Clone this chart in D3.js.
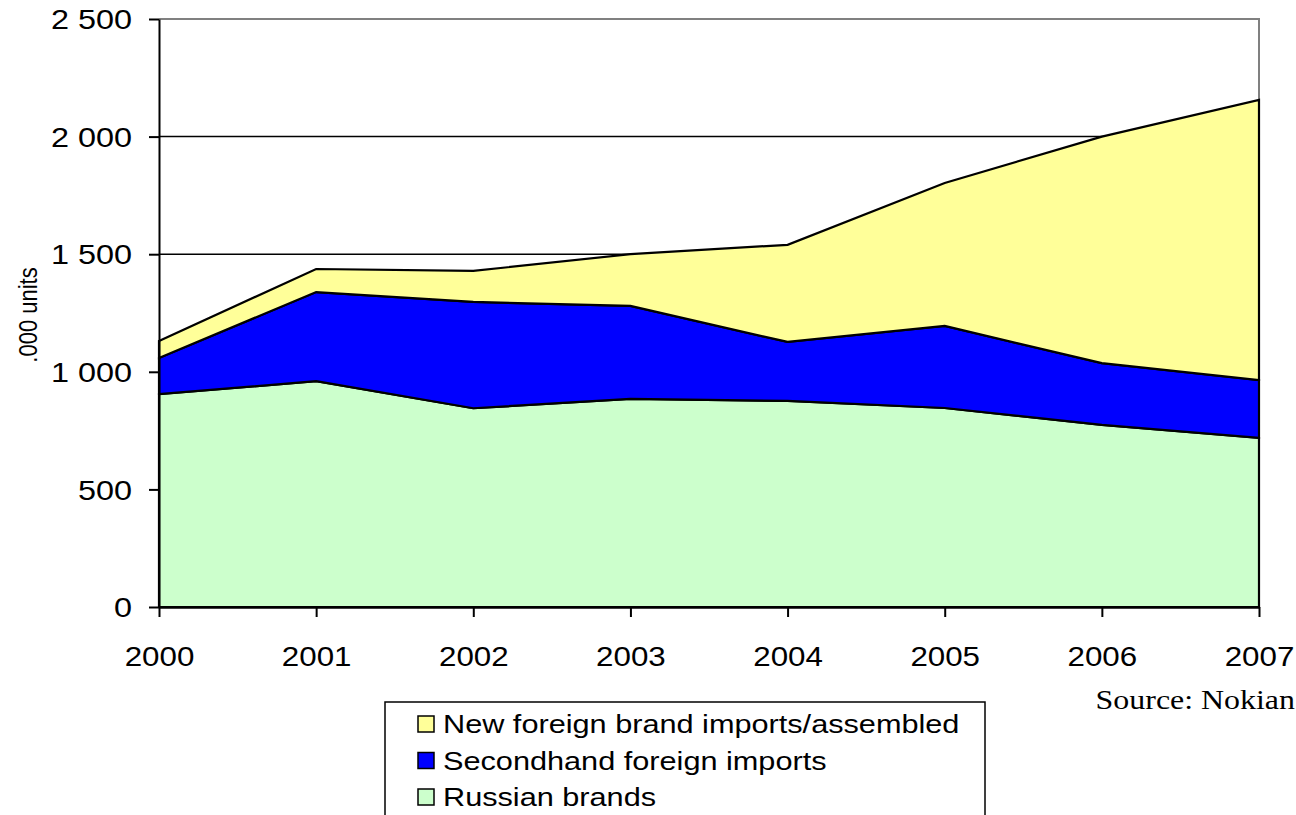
<!DOCTYPE html>
<html>
<head>
<meta charset="utf-8">
<script src="https://cdn.jsdelivr.net/npm/d3@7"></script>
<style>
  html, body { margin: 0; padding: 0; background: #fff; }
  svg { display: block; }
</style>
</head>
<body>
<svg id="chart" width="1296" height="815"></svg>
<script>
// Russian passenger tyre market, thousand units by origin
const years = [2000, 2001, 2002, 2003, 2004, 2005, 2006, 2007];
const russianBrands = [905, 960, 845, 885, 876, 846, 774, 719];
const secondhandImports = [154, 379, 452, 395, 251, 349, 263, 246];
const newForeignImports = [72, 98, 132, 220, 413, 608, 963, 1191];
const yTicks = [0, 500, 1000, 1500, 2000, 2500];
const seriesNames = ["Russian brands", "Secondhand foreign imports", "New foreign brand imports/assembled"];
const seriesColors = ["#CCFFCC", "#0000FF", "#FFFF99"];
const legendOrder = [2, 1, 0];

const rows = years.map((yr, i) => ({
  year: yr,
  [seriesNames[0]]: russianBrands[i],
  [seriesNames[1]]: secondhandImports[i],
  [seriesNames[2]]: newForeignImports[i]
}));

const svg = d3.select("#chart");
const plot = { left: 159, right: 1259, top: 19, bottom: 607 };
const sx = 1.2; // horizontal text stretch

const x = d3.scaleLinear().domain([2000, 2007]).range([plot.left, plot.right]);
const y = d3.scaleLinear().domain([0, 2500]).range([plot.bottom, plot.top]);

const fmt = d3.formatLocale({ decimal: ".", thousands: " ", grouping: [3], currency: ["", ""] }).format(",");

// gridlines
svg.append("g")
  .selectAll("line")
  .data(yTicks.filter(v => v > 0 && v < 2500))
  .join("line")
  .attr("x1", plot.left).attr("x2", plot.right)
  .attr("y1", d => y(d)).attr("y2", d => y(d))
  .attr("stroke", "#000").attr("stroke-width", 1.5);

// plot border (top and right)
svg.append("path")
  .attr("d", `M${plot.left},${plot.top}H${plot.right}V${plot.bottom}`)
  .attr("fill", "none").attr("stroke", "#808080").attr("stroke-width", 2);

// stacked areas
const stack = d3.stack().keys(seriesNames);
const layers = stack(rows);
const area = d3.area()
  .x(d => x(d.data.year))
  .y0(d => y(d[0]))
  .y1(d => y(d[1]));

svg.append("g")
  .selectAll("path")
  .data(layers)
  .join("path")
  .attr("d", area)
  .attr("fill", (d, i) => seriesColors[i])
  .attr("stroke", "#000")
  .attr("stroke-width", 2.2)
  .attr("stroke-linejoin", "miter");

// axes
const yAxis = svg.append("g")
  .attr("transform", `translate(${plot.left},0)`)
  .call(d3.axisLeft(y).tickValues(yTicks).tickFormat(fmt).tickSize(10).tickSizeOuter(0));
yAxis.select(".domain").attr("stroke", "#000").attr("stroke-width", 2);
yAxis.selectAll(".tick line").attr("stroke", "#000").attr("stroke-width", 2);
yAxis.selectAll(".tick text")
  .attr("font-family", "Arial, 'Liberation Sans', sans-serif")
  .attr("font-size", 27)
  .attr("fill", "#000")
  .attr("x", -27 / sx)
  .attr("dy", "0.36em")
  .attr("transform", `scale(${sx},1)`);

const xAxis = svg.append("g")
  .attr("transform", `translate(0,${plot.bottom})`)
  .call(d3.axisBottom(x).tickValues(years).tickFormat(d3.format("d")).tickSize(10).tickSizeOuter(0));
xAxis.select(".domain").attr("stroke", "#000").attr("stroke-width", 2.5);
xAxis.selectAll(".tick line").attr("stroke", "#000").attr("stroke-width", 2);
xAxis.selectAll(".tick text")
  .attr("font-family", "Arial, 'Liberation Sans', sans-serif")
  .attr("font-size", 27)
  .attr("fill", "#000")
  .attr("y", 59)
  .attr("dy", 0)
  .attr("transform", "scale(1.16,1)");

// y-axis title
svg.append("text")
  .attr("transform", `translate(37,315) rotate(-90) scale(1,${sx})`)
  .attr("text-anchor", "middle")
  .attr("font-family", "Arial, 'Liberation Sans', sans-serif")
  .attr("font-size", 22)
  .attr("fill", "#000")
  .text(".000 units");

// source note
svg.append("text")
  .attr("transform", "translate(1295,709) scale(1.14,1)")
  .attr("text-anchor", "end")
  .attr("font-family", "'Times New Roman', 'Liberation Serif', serif")
  .attr("font-size", 28)
  .attr("fill", "#000")
  .text("Source: Nokian");

// legend
const legend = svg.append("g");
legend.append("rect")
  .attr("x", 385).attr("y", 702).attr("width", 600).attr("height", 140)
  .attr("fill", "#fff").attr("stroke", "#000").attr("stroke-width", 1.5);

const item = legend.selectAll("g.item")
  .data(legendOrder)
  .join("g")
  .attr("class", "item")
  .attr("transform", (d, i) => `translate(0,${733 + i * 36.5})`);
item.append("rect")
  .attr("x", 418).attr("y", -17).attr("width", 16).attr("height", 16)
  .attr("fill", d => seriesColors[d])
  .attr("stroke", "#000").attr("stroke-width", 1.5);
item.append("text")
  .attr("transform", `translate(443,0) scale(1.18,1)`)
  .attr("font-family", "Arial, 'Liberation Sans', sans-serif")
  .attr("font-size", 26)
  .attr("fill", "#000")
  .text(d => seriesNames[d]);
</script>
</body>
</html>
